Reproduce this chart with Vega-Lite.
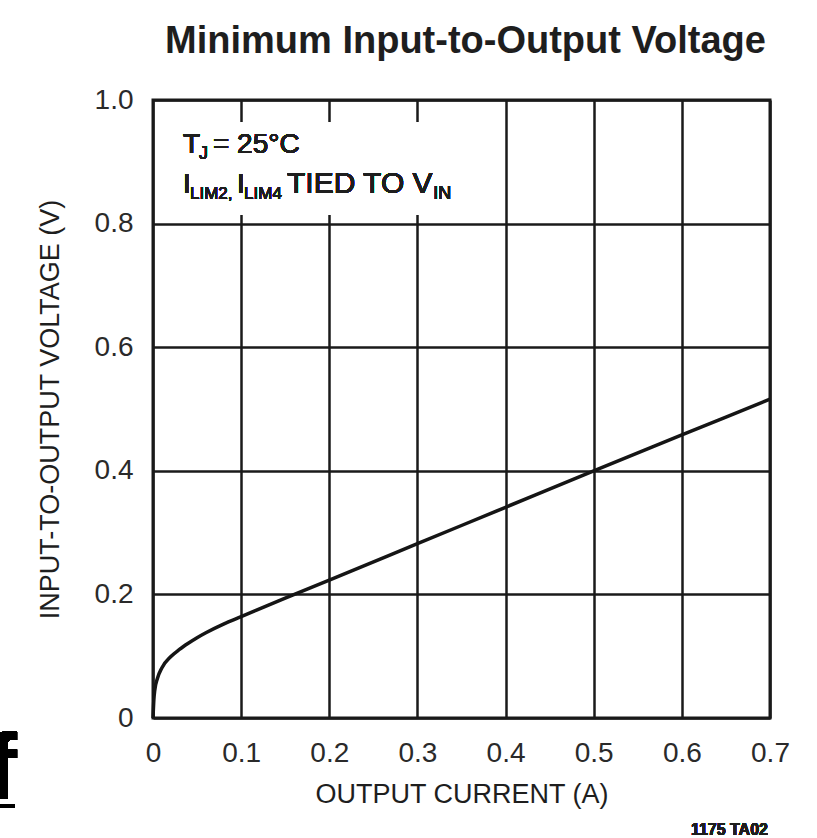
{
  "$schema": "https://vega.github.io/schema/vega-lite/v6.json",
  "width": 617,
  "height": 618,
  "autosize": {"type": "none"},
  "padding": {"left": 153, "top": 100, "right": 47, "bottom": 120},
  "background": "white",
  "title": {
    "text": "Minimum Input-to-Output Voltage",
    "font": "Liberation Sans",
    "fontWeight": "bold",
    "fontSize": 38,
    "color": "#1e1e1e",
    "frame": "group",
    "anchor": "middle",
    "baseline": "alphabetic",
    "offset": 12,
    "dx": 4,
    "dy": 17
  },
  "config": {
    "view": {"stroke": "#1a1a1a", "strokeWidth": 3},
    "axis": {
      "domain": false,
      "ticks": false,
      "grid": true,
      "gridColor": "#1a1a1a",
      "gridWidth": 2.5,
      "gridOpacity": 1,
      "labelFont": "Liberation Sans",
      "labelFontSize": 28,
      "labelColor": "#2a2a2a",
      "titleFont": "Liberation Sans",
      "titleFontWeight": "normal",
      "titleFontSize": 27,
      "titleColor": "#1e1e1e"
    }
  },
  "data": {
    "values": [
      {"current": 0, "voltage": 0},
      {"current": 0.001, "voltage": 0.03},
      {"current": 0.002, "voltage": 0.045},
      {"current": 0.005, "voltage": 0.064},
      {"current": 0.01, "voltage": 0.081},
      {"current": 0.02, "voltage": 0.099},
      {"current": 0.03, "voltage": 0.111},
      {"current": 0.04, "voltage": 0.121},
      {"current": 0.05, "voltage": 0.13},
      {"current": 0.06, "voltage": 0.138},
      {"current": 0.08, "voltage": 0.152},
      {"current": 0.1, "voltage": 0.164},
      {"current": 0.15, "voltage": 0.194},
      {"current": 0.2, "voltage": 0.223},
      {"current": 0.3, "voltage": 0.282},
      {"current": 0.4, "voltage": 0.341},
      {"current": 0.5, "voltage": 0.4},
      {"current": 0.6, "voltage": 0.458},
      {"current": 0.7, "voltage": 0.516}
    ]
  },
  "layer": [
    {
      "mark": {"type": "line", "color": "#151515", "strokeWidth": 3.5, "interpolate": "monotone"},
      "encoding": {
        "x": {
          "field": "current", "type": "quantitative",
          "scale": {"domain": [0, 0.7], "nice": false, "zero": false},
          "axis": {"values": [0, 0.1, 0.2, 0.3, 0.4, 0.5, 0.6, 0.7], "labelExpr": "datum.value == 0 ? '0' : format(datum.value, '.1f')", "labelPadding": 21, "title": "OUTPUT CURRENT (A)", "titlePadding": 14, "labelFlush": false}
        },
        "y": {
          "field": "voltage", "type": "quantitative",
          "scale": {"domain": [0, 1], "nice": false, "zero": false},
          "axis": {"values": [0, 0.2, 0.4, 0.6, 0.8, 1.0], "labelExpr": "datum.value == 0 ? '0' : format(datum.value, '.1f')", "labelPadding": 20, "title": "INPUT-TO-OUTPUT VOLTAGE (V)", "titlePadding": 30, "labelFlush": false}
        }
      }
    },
    {
      "mark": {"type": "rect", "color": "white", "opacity": 1},
      "encoding": {
        "x": {"datum": 0.004, "type": "quantitative"},
        "x2": {"datum": 0.388},
        "y": {"datum": 0.814, "type": "quantitative"},
        "y2": {"datum": 0.963}
      }
    },
    {
      "mark": {"type": "text", "text": "T", "align": "left", "baseline": "alphabetic", "font": "Liberation Sans", "fontSize": 28, "color": "#1e1e1e"},
      "encoding": {"x": {"datum": 0.034, "type": "quantitative"}, "y": {"datum": 0.9142, "type": "quantitative"}}
    },
    {
      "mark": {"type": "text", "text": "J", "align": "left", "baseline": "alphabetic", "font": "Liberation Sans", "fontSize": 18, "color": "#1e1e1e"},
      "encoding": {"x": {"datum": 0.0522, "type": "quantitative"}, "y": {"datum": 0.9045, "type": "quantitative"}}
    },
    {
      "mark": {"type": "text", "text": "= 25°C", "align": "left", "baseline": "alphabetic", "font": "Liberation Sans", "fontSize": 28, "color": "#1e1e1e"},
      "encoding": {"x": {"datum": 0.0680, "type": "quantitative"}, "y": {"datum": 0.9142, "type": "quantitative"}}
    },
    {
      "mark": {"type": "text", "text": "I", "align": "left", "baseline": "alphabetic", "font": "Liberation Sans", "fontSize": 28, "color": "#1e1e1e"},
      "encoding": {"x": {"datum": 0.034, "type": "quantitative"}, "y": {"datum": 0.8495, "type": "quantitative"}}
    },
    {
      "mark": {"type": "text", "text": "LIM2,", "align": "left", "baseline": "alphabetic", "font": "Liberation Sans", "fontSize": 17, "color": "#1e1e1e"},
      "encoding": {"x": {"datum": 0.0420, "type": "quantitative"}, "y": {"datum": 0.8398, "type": "quantitative"}}
    },
    {
      "mark": {"type": "text", "text": "I", "align": "left", "baseline": "alphabetic", "font": "Liberation Sans", "fontSize": 28, "color": "#1e1e1e"},
      "encoding": {"x": {"datum": 0.0953, "type": "quantitative"}, "y": {"datum": 0.8495, "type": "quantitative"}}
    },
    {
      "mark": {"type": "text", "text": "LIM4", "align": "left", "baseline": "alphabetic", "font": "Liberation Sans", "fontSize": 17, "color": "#1e1e1e"},
      "encoding": {"x": {"datum": 0.1033, "type": "quantitative"}, "y": {"datum": 0.8398, "type": "quantitative"}}
    },
    {
      "mark": {"type": "text", "text": "TIED TO V", "align": "left", "baseline": "alphabetic", "font": "Liberation Sans", "fontSize": 30, "color": "#1e1e1e"},
      "encoding": {"x": {"datum": 0.1520, "type": "quantitative"}, "y": {"datum": 0.8495, "type": "quantitative"}}
    },
    {
      "mark": {"type": "text", "text": "IN", "align": "left", "baseline": "alphabetic", "font": "Liberation Sans", "fontSize": 18, "color": "#1e1e1e"},
      "encoding": {"x": {"datum": 0.3180, "type": "quantitative"}, "y": {"datum": 0.8398, "type": "quantitative"}}
    },
    {
      "mark": {"type": "text", "text": "1175 TA02", "align": "right", "baseline": "alphabetic", "font": "Liberation Sans", "fontWeight": "bold", "fontSize": 16, "color": "#1e1e1e"},
      "encoding": {"x": {"datum": 0.6977, "type": "quantitative"}, "y": {"datum": -0.1893, "type": "quantitative"}}
    },
    {
      "mark": {"type": "text", "text": "f", "align": "right", "baseline": "alphabetic", "font": "Liberation Sans", "fontWeight": "bold", "fontSize": 92, "color": "black"},
      "encoding": {"x": {"datum": -0.1543, "type": "quantitative"}, "y": {"datum": -0.1294, "type": "quantitative"}}
    },
    {
      "mark": {"type": "rule", "color": "black", "strokeWidth": 4},
      "encoding": {
        "x": {"datum": -0.18, "type": "quantitative"},
        "x2": {"datum": -0.1566},
        "y": {"datum": -0.1424, "type": "quantitative"}
      }
    }
  ]
}
